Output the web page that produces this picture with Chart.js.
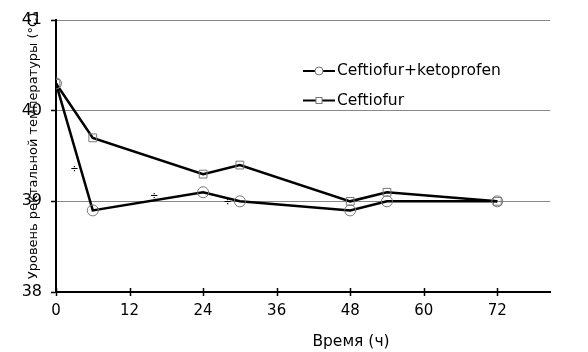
<!DOCTYPE html>
<html>
<head>
<meta charset="utf-8">
<script src="https://cdn.jsdelivr.net/npm/chart.js@4"></script>
<style>
  body { margin: 0; background: #fff; }
  #wrap { width: 588px; height: 352px; }
</style>
</head>
<body>
<div id="wrap"><canvas id="myChart" width="588" height="352"></canvas></div>
<script>
// data
const hours = [0, 6, 24, 30, 48, 54, 72];
const ketoValues = [40.3, 38.9, 39.1, 39.0, 38.9, 39.0, 39.0];
const ceftValues = [40.3, 39.7, 39.3, 39.4, 39.0, 39.1, 39.0];
const xTicks = [0, 12, 24, 36, 48, 60, 72];
const yTicks = [38, 39, 40, 41];
const seriesNames = ['Ceftiofur+ketoprofen', 'Ceftiofur'];
const xTitle = 'Время (ч)';
const yTitle = 'Уровень ректальной температуры (°C)';
// small significance marks scattered in the plot (hour, value)
const starHours = [3, 16, 28];
const starValues = [39.35, 39.05, 38.99];

const font = 'DejaVu Sans';

function toPoints(vals) {
    return hours.map((h, i) => ({ x: h, y: vals[i] }));
}

// titles, legend and crossing x ticks drawn by hand so they sit where the original has them
const extras = {
    id: 'extras',
    afterDraw(chart) {
        const c = chart.ctx;
        const area = chart.chartArea;
        const xs = chart.scales.x;
        const ys = chart.scales.y;

        c.save();
        c.strokeStyle = '#000';
        c.lineWidth = 1.5;
        xTicks.forEach(v => {
            const px = Math.round(xs.getPixelForValue(v)) + 0.5;
            c.beginPath();
            c.moveTo(px, area.bottom - 4);
            c.lineTo(px, area.bottom + 4);
            c.stroke();
        });

        c.fillStyle = '#000';
        c.font = '10px ' + font;
        c.textAlign = 'center';
        c.textBaseline = 'middle';
        starHours.forEach((h, i) => {
            c.fillText('÷', xs.getPixelForValue(h), ys.getPixelForValue(starValues[i]));
        });

        c.font = '15.5px ' + font;
        c.fillText(xTitle, 351, 342);

        c.font = '13px ' + font;
        c.translate(34, 146);
        c.rotate(-Math.PI / 2);
        c.fillText(yTitle, 0, 0);
        c.restore();

        // legend
        c.save();
        c.font = '15.5px ' + font;
        c.textBaseline = 'middle';
        chart.data.datasets.forEach((ds, i) => {
            const y = 71 + i * 29.5;
            const x0 = 303;
            c.strokeStyle = '#000';
            c.lineWidth = 2;
            c.beginPath();
            c.moveTo(x0, y);
            c.lineTo(x0 + 32, y);
            c.stroke();
            c.strokeStyle = '#777';
            c.lineWidth = 1;
            c.fillStyle = '#fff';
            if (ds.pointStyle === 'circle') {
                c.beginPath();
                c.arc(x0 + 16, y, 4, 0, Math.PI * 2);
                c.fill();
                c.stroke();
            } else {
                c.fillRect(x0 + 13, y - 3, 6, 6);
                c.strokeRect(x0 + 13, y - 3, 6, 6);
            }
            c.fillStyle = '#000';
            c.fillText(ds.label, x0 + 34, y);
        });
        c.restore();
    }
};

const ctx = document.getElementById('myChart');

new Chart(ctx, {
    type: 'line',
    data: {
        datasets: [{
            label: seriesNames[0],
            data: toPoints(ketoValues),
            borderColor: '#000',
            borderWidth: 2.5,
            pointStyle: 'circle',
            pointRadius: 5.5,
            pointBorderColor: '#777',
            pointBorderWidth: 1,
            pointBackgroundColor: 'rgba(255,255,255,0)',
            tension: 0
        }, {
            label: seriesNames[1],
            data: toPoints(ceftValues),
            borderColor: '#000',
            borderWidth: 2.5,
            pointStyle: 'rect',
            pointRadius: 5.5,
            pointBorderColor: '#777',
            pointBorderWidth: 1,
            pointBackgroundColor: 'rgba(255,255,255,0)',
            tension: 0
        }]
    },
    options: {
        responsive: false,
        animation: false,
        layout: { padding: { left: 0, right: 38, top: 20, bottom: 0 } },
        plugins: {
            legend: { display: false },
            tooltip: { enabled: false }
        },
        scales: {
            x: {
                type: 'linear',
                min: 0,
                max: 80.6,
                afterBuildTicks: s => { s.ticks = xTicks.map(v => ({ value: v })); },
                afterFit: s => { s.height = 60; },
                grid: {
                    drawOnChartArea: false,
                    drawTicks: true,
                    tickLength: 4,
                    tickColor: 'rgba(0,0,0,0)'
                },
                border: { color: '#000', width: 2 },
                ticks: {
                    color: '#000',
                    font: { family: font, size: 15 },
                    padding: 6,
                    maxRotation: 0
                }
            },
            y: {
                min: 38,
                max: 41,
                afterBuildTicks: s => { s.ticks = yTicks.map(v => ({ value: v })); },
                afterFit: s => { s.width = 56; },
                grid: {
                    color: ctx => ctx.tick && ctx.tick.value === 38 ? 'rgba(0,0,0,0)' : '#888',
                    lineWidth: 1,
                    tickLength: 5,
                    tickColor: '#000',
                    tickWidth: 1.5
                },
                border: { color: '#000', width: 2 },
                ticks: {
                    color: '#000',
                    font: { family: font, size: 16 },
                    padding: 9
                }
            }
        }
    },
    plugins: [extras]
});
</script>
</body>
</html>
